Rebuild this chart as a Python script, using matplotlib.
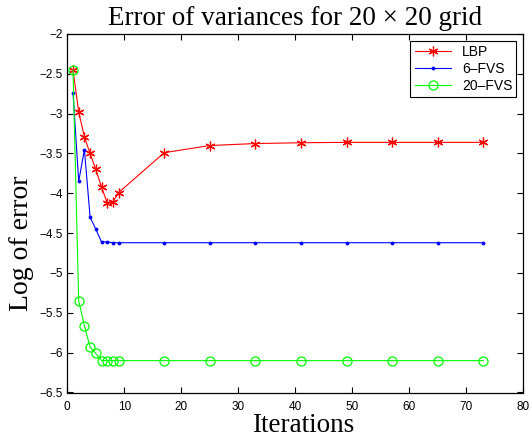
import matplotlib
matplotlib.use("Agg")
import matplotlib.pyplot as plt

# Data
iterations = [1, 2, 3, 4, 5, 6, 7, 8, 9, 17, 25, 33, 41, 49, 57, 65, 73]
lbp = [-2.45, -2.98, -3.29, -3.50, -3.70, -3.92, -4.12, -4.11, -3.99,
       -3.49, -3.40, -3.375, -3.365, -3.36, -3.36, -3.36, -3.36]
fvs6 = [-2.74, -3.85, -3.45, -4.30, -4.45, -4.61, -4.61, -4.62, -4.62,
        -4.62, -4.62, -4.62, -4.62, -4.62, -4.62, -4.62, -4.62]
fvs20 = [-2.45, -5.35, -5.66, -5.93, -6.01, -6.10, -6.10, -6.10, -6.10,
         -6.10, -6.10, -6.10, -6.10, -6.10, -6.10, -6.10, -6.10]

xticks = list(range(0, 81, 10))
yticks = [-6.5, -6, -5.5, -5, -4.5, -4, -3.5, -3, -2.5, -2]

plt.rcParams['font.family'] = ['Liberation Sans', 'DejaVu Sans']

fig = plt.figure(figsize=(5.31, 4.41), dpi=100)
ax = fig.add_axes([67.3 / 531, 1 - 392.5 / 441, 456 / 531, 358.5 / 441])

ax.plot(iterations, lbp, color=(1, 0, 0), lw=0.8, marker=(6, 2, 0),
        ms=7, mew=0.9, label="LBP")
ax.plot(iterations, fvs6, color=(0, 0, 1), lw=0.8, marker='.',
        ms=3.5, label="6–FVS")
ax.plot(iterations, fvs20, color=(0, 1, 0), lw=0.8, marker='o',
        ms=6.5, mfc='none', mew=0.9, label="20–FVS")

ax.set_xlim(0, 80)
ax.set_ylim(-6.5, -2)
ax.set_xticks(xticks)
ax.set_yticks(yticks)
ax.set_xticklabels([str(t) for t in xticks])
ax.set_yticklabels([("%g" % t).replace("-", "\u2212") for t in yticks])
ax.tick_params(direction='in', top=True, right=True, length=4, width=0.8,
               labelsize=8.5)
ax.tick_params(axis='x', pad=6)
ax.tick_params(axis='y', pad=3)
for s in ax.spines.values():
    s.set_linewidth(0.9)

serif = ['Liberation Serif', 'DejaVu Serif']
ax.set_title("Error of variances for 20 \u00d7 20 grid", family=serif,
             fontsize=19.5, pad=6.5)
ax.set_xlabel("Iterations", family=serif, fontsize=19.5, labelpad=0)
ax.set_ylabel("Log of error", family=serif, fontsize=20, labelpad=4)
# MATLAB put the labels slightly off-centre
ax.xaxis.label.set_x(0.517)
ax.yaxis.label.set_y(0.416)

leg = ax.legend(loc='upper right', fontsize=10, fancybox=False,
                edgecolor='black', framealpha=1, borderaxespad=0.5,
                handlelength=2.6, labelspacing=0.2, borderpad=0.3)
leg.get_frame().set_linewidth(0.8)

fig.savefig("out.png", dpi=100)
